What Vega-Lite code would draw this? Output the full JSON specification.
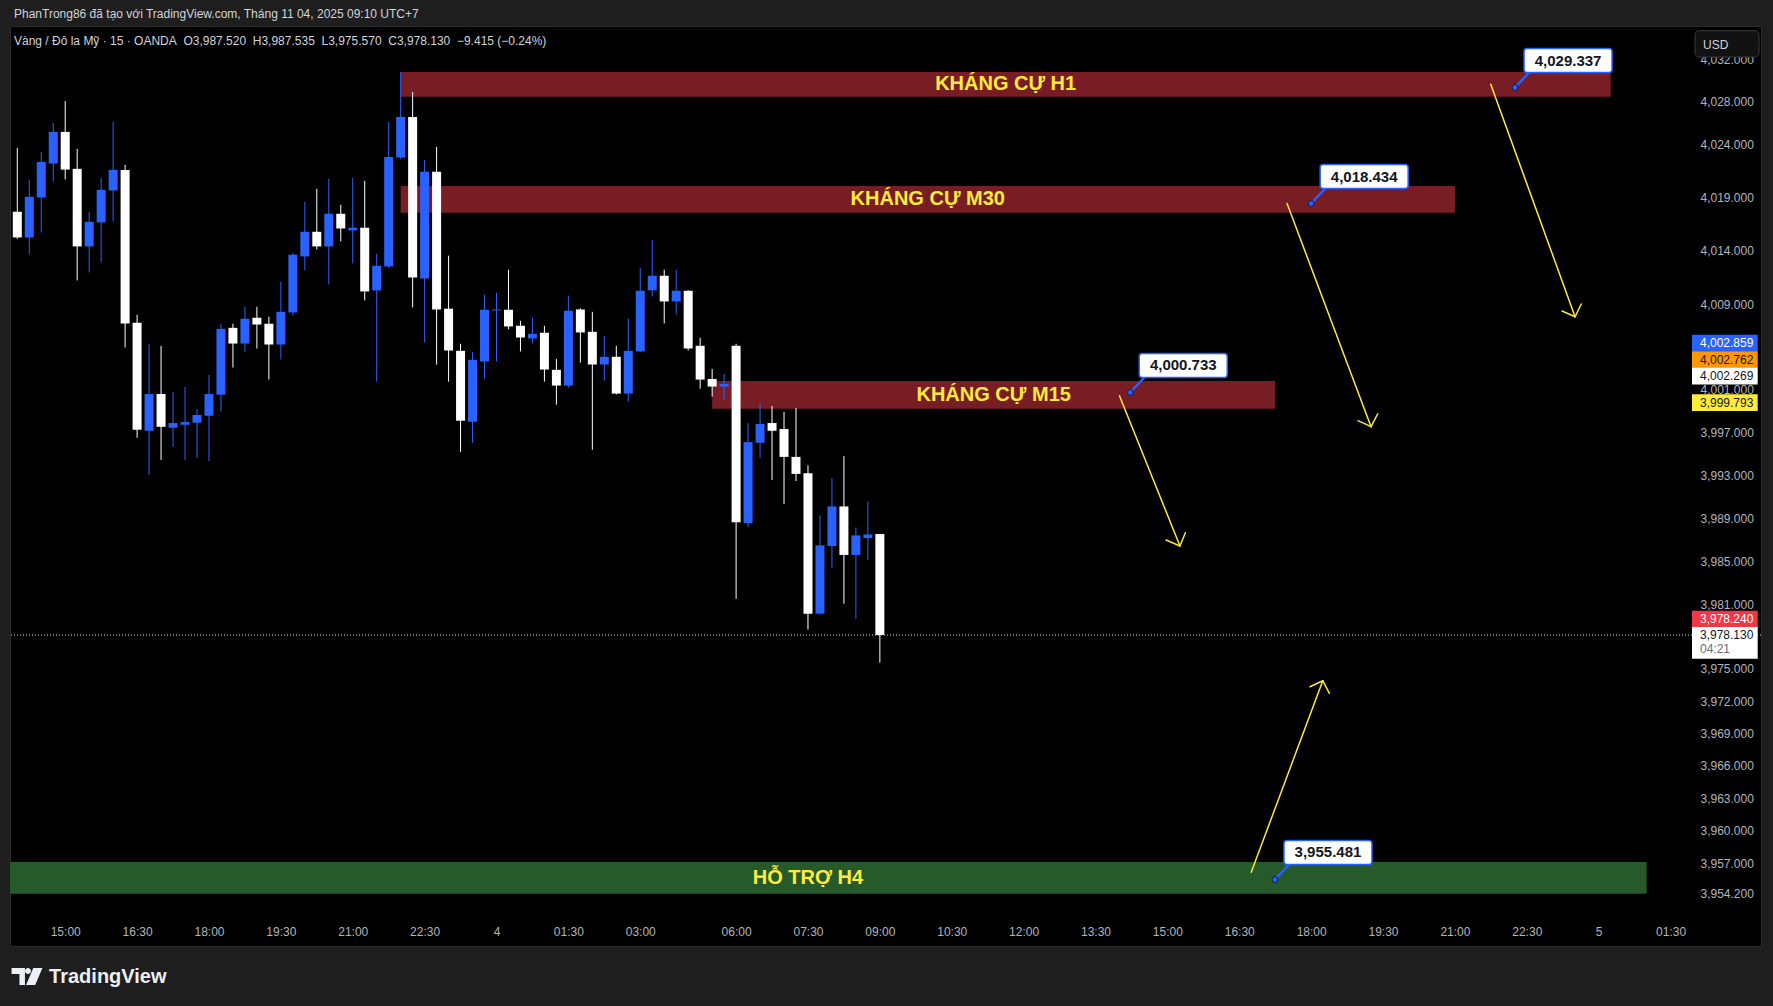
{
  "$schema": "https://vega.github.io/schema/vega-lite/v6.json",
  "width": 1751,
  "height": 920,
  "autosize": "none",
  "padding": {"left": 10, "top": 26, "right": 12, "bottom": 60},
  "background": "#1e1e1e",
  "view": {"fill": "#000000", "stroke": "#2b2b2b", "strokeWidth": 1},
  "config": {"font": "Liberation Sans", "text": {"font": "Liberation Sans"}, "scale": {"continuousPadding": 0}},
  "title": {
    "text": "PhanTrong86 đã tạo với TradingView.com, Tháng 11 04, 2025 09:10 UTC+7",
    "subtitle": "Vàng / Đô la Mỹ · 15 · OANDA\u00a0\u00a0O3,987.520\u00a0\u00a0H3,987.535\u00a0\u00a0L3,975.570\u00a0\u00a0C3,978.130\u00a0\u00a0−9.415 (−0.24%)",
    "anchor": "start",
    "frame": "group",
    "orient": "top",
    "offset": -22,
    "dx": 4,
    "font": "Liberation Sans",
    "fontSize": 12,
    "fontWeight": "normal",
    "color": "#d1d4dc",
    "subtitleFont": "Liberation Sans",
    "subtitleFontSize": 12,
    "subtitleColor": "#d1d4dc",
    "subtitlePadding": 15
  },
  "datasets": {
    "candles": [
      {"x":0,"o":4017.66,"h":4023.66,"l":4015.12,"c":4015.25},
      {"x":1,"o":4015.25,"h":4020.66,"l":4013.66,"c":4019.06},
      {"x":2,"o":4019.0,"h":4023.28,"l":4015.72,"c":4022.34},
      {"x":3,"o":4022.19,"h":4026.0,"l":4020.5,"c":4025.16},
      {"x":4,"o":4025.16,"h":4028.06,"l":4020.69,"c":4021.62},
      {"x":5,"o":4021.69,"h":4023.56,"l":4011.22,"c":4014.41},
      {"x":6,"o":4014.41,"h":4017.66,"l":4011.97,"c":4016.72},
      {"x":7,"o":4016.66,"h":4020.84,"l":4012.91,"c":4019.72},
      {"x":8,"o":4019.66,"h":4026.09,"l":4016.75,"c":4021.59},
      {"x":9,"o":4021.59,"h":4022.06,"l":4004.94,"c":4007.19},
      {"x":10,"o":4007.25,"h":4008.0,"l":3996.5,"c":3997.25},
      {"x":11,"o":3997.16,"h":4005.28,"l":3993.03,"c":4000.59},
      {"x":12,"o":4000.59,"h":4005.09,"l":3994.44,"c":3997.53},
      {"x":13,"o":3997.44,"h":4000.78,"l":3995.66,"c":3997.88},
      {"x":14,"o":3997.72,"h":4001.25,"l":3994.44,"c":3997.97},
      {"x":15,"o":3997.91,"h":3999.19,"l":3994.63,"c":3998.63},
      {"x":16,"o":3998.56,"h":4002.38,"l":3994.34,"c":4000.59},
      {"x":17,"o":4000.53,"h":4007.16,"l":3998.94,"c":4006.69},
      {"x":18,"o":4006.78,"h":4007.16,"l":4003.06,"c":4005.31},
      {"x":19,"o":4005.31,"h":4008.75,"l":4004.56,"c":4007.63},
      {"x":20,"o":4007.72,"h":4008.75,"l":4004.84,"c":4007.09},
      {"x":21,"o":4007.16,"h":4007.81,"l":4001.94,"c":4005.22},
      {"x":22,"o":4005.22,"h":4011.09,"l":4003.81,"c":4008.28},
      {"x":23,"o":4008.22,"h":4013.81,"l":4007.94,"c":4013.63},
      {"x":24,"o":4013.47,"h":4018.59,"l":4012.16,"c":4015.78},
      {"x":25,"o":4015.78,"h":4019.81,"l":4014.13,"c":4014.41},
      {"x":26,"o":4014.41,"h":4020.75,"l":4010.84,"c":4017.47},
      {"x":27,"o":4017.47,"h":4018.31,"l":4014.88,"c":4016.09},
      {"x":28,"o":4015.91,"h":4020.84,"l":4012.81,"c":4016.16},
      {"x":29,"o":4016.16,"h":4020.56,"l":4009.34,"c":4010.19},
      {"x":30,"o":4010.28,"h":4013.72,"l":4001.75,"c":4012.59},
      {"x":31,"o":4012.53,"h":4026.09,"l":4012.4,"c":4022.81},
      {"x":32,"o":4022.75,"h":4030.78,"l":4022.6,"c":4026.56},
      {"x":33,"o":4026.56,"h":4028.91,"l":4008.69,"c":4011.5},
      {"x":34,"o":4011.41,"h":4022.53,"l":4005.41,"c":4021.41},
      {"x":35,"o":4021.41,"h":4023.75,"l":4003.34,"c":4008.5},
      {"x":36,"o":4008.57,"h":4013.54,"l":4001.75,"c":4004.66},
      {"x":37,"o":4004.63,"h":4005.29,"l":3995.19,"c":3998.1},
      {"x":38,"o":3998.0,"h":4004.54,"l":3996.04,"c":4003.79},
      {"x":39,"o":4003.63,"h":4009.88,"l":4002.04,"c":4008.47},
      {"x":40,"o":4008.41,"h":4010.07,"l":4003.63,"c":4008.5},
      {"x":41,"o":4008.47,"h":4012.22,"l":4006.63,"c":4006.91},
      {"x":42,"o":4006.97,"h":4007.44,"l":4004.57,"c":4005.88},
      {"x":43,"o":4005.79,"h":4007.72,"l":4005.32,"c":4006.22},
      {"x":44,"o":4006.32,"h":4006.97,"l":4001.75,"c":4002.88},
      {"x":45,"o":4002.85,"h":4003.88,"l":3999.6,"c":4001.38},
      {"x":46,"o":4001.38,"h":4009.79,"l":4001.19,"c":4008.38},
      {"x":47,"o":4008.5,"h":4008.6,"l":4003.53,"c":4006.35},
      {"x":48,"o":4006.41,"h":4008.28,"l":3995.38,"c":4003.35},
      {"x":49,"o":4003.35,"h":4006.04,"l":4001.85,"c":4004.07},
      {"x":50,"o":4004.07,"h":4005.1,"l":4000.55,"c":4000.63},
      {"x":51,"o":4000.63,"h":4007.63,"l":3999.88,"c":4004.63},
      {"x":52,"o":4004.57,"h":4012.41,"l":4004.5,"c":4010.25},
      {"x":53,"o":4010.29,"h":4015.04,"l":4009.72,"c":4011.66},
      {"x":54,"o":4011.66,"h":4012.22,"l":4007.19,"c":4009.25},
      {"x":55,"o":4009.25,"h":4012.22,"l":4008.04,"c":4010.25},
      {"x":56,"o":4010.25,"h":4010.3,"l":4004.66,"c":4004.85},
      {"x":57,"o":4005.1,"h":4005.85,"l":4001.1,"c":4001.94},
      {"x":58,"o":4002.0,"h":4002.94,"l":4000.35,"c":4001.29},
      {"x":59,"o":4001.29,"h":4002.47,"l":4000.07,"c":4001.53},
      {"x":60,"o":4005.1,"h":4005.29,"l":3981.5,"c":3988.63},
      {"x":61,"o":3988.54,"h":3997.88,"l":3988.17,"c":3996.1},
      {"x":62,"o":3996.04,"h":3999.76,"l":3994.63,"c":3997.79},
      {"x":63,"o":3997.88,"h":3999.48,"l":3992.57,"c":3997.16},
      {"x":64,"o":3997.32,"h":3998.91,"l":3990.32,"c":3994.72},
      {"x":65,"o":3994.72,"h":3999.29,"l":3992.47,"c":3993.13},
      {"x":66,"o":3993.19,"h":3993.94,"l":3978.63,"c":3980.12},
      {"x":67,"o":3980.12,"h":3989.26,"l":3980.02,"c":3986.47},
      {"x":68,"o":3986.41,"h":3992.73,"l":3984.37,"c":3990.1},
      {"x":69,"o":3990.1,"h":3994.79,"l":3981.04,"c":3985.58},
      {"x":70,"o":3985.58,"h":3988.14,"l":3979.65,"c":3987.4},
      {"x":71,"o":3987.15,"h":3990.57,"l":3985.11,"c":3987.49},
      {"x":72,"o":3987.52,"h":3987.535,"l":3975.57,"c":3978.13}
    ],
    "zones": [
      {"z":"H1","kind":"res","x":32,"x2":133,"p":4030.80,"p2":4028.47},
      {"z":"M30","kind":"res","x":32,"x2":120,"p":4020.08,"p2":4017.57},
      {"z":"M15","kind":"res","x":58,"x2":105,"p":4001.81,"p2":3999.22},
      {"z":"H4","kind":"sup","x":-4,"x2":136,"p":3957.10,"p2":3954.17}
    ],
    "zlabels": [
      {"t":"KHÁNG CỰ H1","x":82.5,"p":4029.64},
      {"t":"KHÁNG CỰ M30","x":76,"p":4018.83},
      {"t":"KHÁNG CỰ M15","x":81.5,"p":4000.52},
      {"t":"HỖ TRỢ H4","x":66,"p":3955.64}
    ],
    "arrows": [
      {"a":1,"x":122.99,"p":4029.64,"x2":130.03,"p2":4007.82},
      {"a":1,"x":128.94,"p":4008.36,"x2":130.03,"p2":4007.82},
      {"a":1,"x":130.55,"p":4009.01,"x2":130.03,"p2":4007.82},
      {"a":2,"x":105.99,"p":4018.43,"x2":113.0,"p2":3997.54},
      {"a":2,"x":111.91,"p":3998.10,"x2":113.0,"p2":3997.54},
      {"a":2,"x":113.56,"p":3998.75,"x2":113.0,"p2":3997.54},
      {"a":3,"x":92.0,"p":4000.43,"x2":97.05,"p2":3986.41},
      {"a":3,"x":95.89,"p":3986.97,"x2":97.05,"p2":3986.41},
      {"a":3,"x":97.5,"p":3987.65,"x2":97.05,"p2":3986.41},
      {"a":4,"x":103.0,"p":3956.15,"x2":108.97,"p2":3973.89},
      {"a":4,"x":107.9,"p":3973.33,"x2":108.97,"p2":3973.89},
      {"a":4,"x":109.52,"p":3972.72,"x2":108.97,"p2":3973.89}
    ],
    "notes": [
      {"v":"4,029.337","x":125.02,"p":4029.337},
      {"v":"4,018.434","x":108.0,"p":4018.434},
      {"v":"4,000.733","x":92.9,"p":4000.733},
      {"v":"3,955.481","x":104.98,"p":3955.481}
    ],
    "tags": [
      {"k":"b1","v":"4,002.859","p":4005.36},
      {"k":"o1","v":"4,002.762","p":4003.80},
      {"k":"w1","v":"4,002.269","p":4002.269},
      {"k":"y1","v":"3,999.793","p":3999.793},
      {"k":"r1","v":"3,978.240","p":3979.62}
    ],
    "last": [
      {"v":"3,978.130","cd":"04:21","p":3978.13}
    ]
  },
  "layer": [
    {
      "data": {"name": "zones"},
      "mark": {"type": "rect", "clip": true},
      "encoding": {
        "x": {"field": "x", "type": "quantitative", "scale": {"domain": [-0.609, 145.55], "nice": false, "zero": false, "padding": 0}},
        "x2": {"field": "x2"},
        "y": {"field": "p", "type": "quantitative", "scale": {"type": "log", "domain": [3949.34, 4035.13], "nice": false, "padding": 0}},
        "y2": {"field": "p2"},
        "color": {"condition": {"test": "datum.kind == 'sup'", "value": "#275a2a"}, "value": "#791d25"}
      }
    },
    {
      "data": {"values": [{"p": 3978.13}]},
      "mark": {"type": "rule", "strokeDash": [1, 2], "strokeWidth": 1, "color": "#d1d4dc"},
      "encoding": {
        "y": {"field": "p", "type": "quantitative", "scale": {"type": "log", "domain": [3949.34, 4035.13], "nice": false, "padding": 0}}
      }
    },
    {
      "data": {"name": "candles"},
      "mark": {"type": "rule", "strokeWidth": 1},
      "encoding": {
        "x": {
          "field": "x",
          "type": "quantitative",
          "scale": {"domain": [-0.609, 145.55], "nice": false, "zero": false, "padding": 0},
          "axis": {
            "orient": "bottom",
            "offset": -30,
            "values": [4,10,16,22,28,34,40,46,52,60,66,72,78,84,90,96,102,108,114,120,126,132,138],
            "labelExpr": "datum.value == 40 ? '4' : datum.value == 132 ? '5' : timeFormat(datetime(2025, 10, 3, 0, datum.value < 60 ? 840 + 15 * datum.value : 1800 + 15 * (datum.value - 60)), '%H:%M')",
            "domain": false,
            "ticks": false,
            "grid": false,
            "labelPadding": 10,
            "labelBaseline": "top",
            "labelFontSize": 12,
            "labelFont": "Liberation Sans",
            "labelColor": "#b2b5be",
            "labelOverlap": false,
            "labelFlush": false,
            "title": "TradingView",
            "titleX": 38.6,
            "titleY": 66.7,
            "titleAlign": "left",
            "titleBaseline": "alphabetic",
            "titleFont": "Liberation Sans",
            "titleFontSize": 20,
            "titleFontWeight": "bold",
            "titleColor": "#eceff5"
          }
        },
        "y": {
          "field": "l",
          "type": "quantitative",
          "scale": {"type": "log", "domain": [3949.34, 4035.13], "nice": false, "padding": 0},
          "axis": {
            "orient": "right",
            "offset": -71,
            "values": [4032, 4028, 4024, 4019, 4014, 4009, 4001, 3997, 3993, 3989, 3985, 3981, 3975, 3972, 3969, 3966, 3963, 3960, 3957, 3954.2],
            "format": ",.3f",
            "domain": false,
            "ticks": false,
            "grid": false,
            "labelPadding": 10,
            "labelBaseline": "middle",
            "labelFontSize": 12,
            "labelFont": "Liberation Sans",
            "labelColor": "#b2b5be",
            "labelOverlap": false,
            "labelFlush": false,
            "title": null
          }
        },
        "y2": {"field": "h"},
        "color": {"condition": {"test": "datum.c >= datum.o", "value": "#2962FF"}, "value": "#FFFFFF"}
      }
    },
    {
      "data": {"name": "candles"},
      "mark": {"type": "bar", "size": 9},
      "encoding": {
        "x": {"field": "x", "type": "quantitative", "scale": {"domain": [-0.609, 145.55], "nice": false, "zero": false, "padding": 0}},
        "y": {"field": "o", "type": "quantitative", "scale": {"type": "log", "domain": [3949.34, 4035.13], "nice": false, "padding": 0}},
        "y2": {"field": "c"},
        "color": {"condition": {"test": "datum.c >= datum.o", "value": "#2962FF"}, "value": "#FFFFFF"}
      }
    },
    {
      "data": {"name": "zlabels"},
      "mark": {"type": "text", "fontSize": 20, "fontWeight": "bold", "color": "#FFEB3B", "align": "center", "baseline": "middle", "font": "Liberation Sans"},
      "encoding": {
        "x": {"field": "x", "type": "quantitative", "scale": {"domain": [-0.609, 145.55], "nice": false, "zero": false, "padding": 0}},
        "y": {"field": "p", "type": "quantitative", "scale": {"type": "log", "domain": [3949.34, 4035.13], "nice": false, "padding": 0}},
        "text": {"field": "t"}
      }
    },
    {
      "data": {"name": "arrows"},
      "mark": {"type": "rule", "strokeWidth": 1.5, "color": "#FFE83A", "strokeCap": "round"},
      "encoding": {
        "x": {"field": "x", "type": "quantitative", "scale": {"domain": [-0.609, 145.55], "nice": false, "zero": false, "padding": 0}},
        "x2": {"field": "x2"},
        "y": {"field": "p", "type": "quantitative", "scale": {"type": "log", "domain": [3949.34, 4035.13], "nice": false, "padding": 0}},
        "y2": {"field": "p2"}
      }
    },
    {
      "data": {"name": "notes"},
      "mark": {"type": "rule", "strokeWidth": 2.5, "color": "#2962FF", "x2Offset": 15, "y2Offset": -16},
      "encoding": {
        "x": {"field": "x", "type": "quantitative", "scale": {"domain": [-0.609, 145.55], "nice": false, "zero": false, "padding": 0}},
        "x2": {"field": "x"},
        "y": {"field": "p", "type": "quantitative", "scale": {"type": "log", "domain": [3949.34, 4035.13], "nice": false, "padding": 0}},
        "y2": {"field": "p"}
      }
    },
    {
      "data": {"name": "notes"},
      "mark": {"type": "rect", "fill": "#FFFFFF", "stroke": "#2962FF", "strokeWidth": 1.5, "cornerRadius": 3, "xOffset": 9, "x2Offset": 97, "yOffset": -39, "y2Offset": -15},
      "encoding": {
        "x": {"field": "x", "type": "quantitative", "scale": {"domain": [-0.609, 145.55], "nice": false, "zero": false, "padding": 0}},
        "x2": {"field": "x"},
        "y": {"field": "p", "type": "quantitative", "scale": {"type": "log", "domain": [3949.34, 4035.13], "nice": false, "padding": 0}},
        "y2": {"field": "p"}
      }
    },
    {
      "data": {"name": "notes"},
      "mark": {"type": "point", "filled": true, "size": 34, "fill": "#2962FF", "stroke": "#0b1a4d", "strokeWidth": 1, "opacity": 1},
      "encoding": {
        "x": {"field": "x", "type": "quantitative", "scale": {"domain": [-0.609, 145.55], "nice": false, "zero": false, "padding": 0}},
        "y": {"field": "p", "type": "quantitative", "scale": {"type": "log", "domain": [3949.34, 4035.13], "nice": false, "padding": 0}}
      }
    },
    {
      "data": {"name": "notes"},
      "mark": {"type": "text", "fontSize": 15, "fontWeight": "bold", "color": "#131722", "align": "center", "baseline": "middle", "xOffset": 53, "yOffset": -27, "font": "Liberation Sans"},
      "encoding": {
        "x": {"field": "x", "type": "quantitative", "scale": {"domain": [-0.609, 145.55], "nice": false, "zero": false, "padding": 0}},
        "y": {"field": "p", "type": "quantitative", "scale": {"type": "log", "domain": [3949.34, 4035.13], "nice": false, "padding": 0}},
        "text": {"field": "v"}
      }
    },
    {
      "data": {"name": "tags"},
      "mark": {"type": "rect", "xOffset": -69, "x2Offset": -3.3, "yOffset": -8.35, "y2Offset": 8.35},
      "encoding": {
        "x": {"value": "width"},
        "x2": {"value": "width"},
        "y": {"field": "p", "type": "quantitative", "scale": {"type": "log", "domain": [3949.34, 4035.13], "nice": false, "padding": 0}},
        "y2": {"field": "p"},
        "color": {
          "condition": [
            {"test": "datum.k == 'b1'", "value": "#2962FF"},
            {"test": "datum.k == 'o1'", "value": "#FF9800"},
            {"test": "datum.k == 'y1'", "value": "#FFEB3B"},
            {"test": "datum.k == 'r1'", "value": "#F23645"}
          ],
          "value": "#FFFFFF"
        }
      }
    },
    {
      "data": {"name": "tags"},
      "mark": {"type": "text", "fontSize": 12, "align": "left", "baseline": "middle", "font": "Liberation Sans", "xOffset": -61},
      "encoding": {
        "x": {"value": "width"},
        "y": {"field": "p", "type": "quantitative", "scale": {"type": "log", "domain": [3949.34, 4035.13], "nice": false, "padding": 0}},
        "text": {"field": "v"},
        "color": {
          "condition": [
            {"test": "datum.k == 'b1'", "value": "#FFFFFF"},
            {"test": "datum.k == 'r1'", "value": "#FFFFFF"}
          ],
          "value": "#131722"
        }
      }
    },
    {
      "data": {"name": "last"},
      "mark": {"type": "rect", "fill": "#FFFFFF", "xOffset": -69, "x2Offset": -3.3, "yOffset": -8, "y2Offset": 23.7},
      "encoding": {
        "x": {"value": "width"},
        "x2": {"value": "width"},
        "y": {"field": "p", "type": "quantitative", "scale": {"type": "log", "domain": [3949.34, 4035.13], "nice": false, "padding": 0}},
        "y2": {"field": "p"}
      }
    },
    {
      "data": {"name": "last"},
      "mark": {"type": "text", "fontSize": 12, "align": "left", "baseline": "middle", "color": "#131722", "font": "Liberation Sans", "xOffset": -61},
      "encoding": {
        "x": {"value": "width"},
        "y": {"field": "p", "type": "quantitative", "scale": {"type": "log", "domain": [3949.34, 4035.13], "nice": false, "padding": 0}},
        "text": {"field": "v"}
      }
    },
    {
      "data": {"name": "last"},
      "mark": {"type": "text", "fontSize": 12, "align": "left", "baseline": "middle", "color": "#6a6d78", "font": "Liberation Sans", "xOffset": -61, "yOffset": 14},
      "encoding": {
        "x": {"value": "width"},
        "y": {"field": "p", "type": "quantitative", "scale": {"type": "log", "domain": [3949.34, 4035.13], "nice": false, "padding": 0}},
        "text": {"field": "cd"}
      }
    },
    {
      "data": {"values": [{"u": "USD"}]},
      "mark": {"type": "rect", "fill": "#121212", "stroke": "#3a3a3a", "strokeWidth": 1, "cornerRadius": 4, "xOffset": -66, "x2Offset": -2, "yOffset": 4.7, "y2Offset": 31},
      "encoding": {
        "x": {"value": "width"},
        "x2": {"value": "width"},
        "y": {"value": 0},
        "y2": {"value": 0}
      }
    },
    {
      "data": {"values": [{"u": "USD"}]},
      "mark": {"type": "text", "fontSize": 12, "align": "left", "baseline": "middle", "color": "#d1d4dc", "font": "Liberation Sans", "xOffset": -58, "yOffset": 18.5},
      "encoding": {
        "x": {"value": "width"},
        "y": {"value": 0},
        "text": {"field": "u"}
      }
    },
    {
      "data": {"values": [{"logo": "TradingView"}]},
      "mark": {
        "type": "point",
        "filled": true,
        "size": 992,
        "fill": "#eceff5",
        "strokeWidth": 0,
        "opacity": 1,
        "xOffset": 17,
        "yOffset": 30.5,
        "shape": "M -0.98 -0.54 L -0.13 -0.54 L -0.13 0.54 L -0.48 0.54 L -0.48 -0.16 L -0.98 -0.16 Z M -0.127 -0.35 A 0.19 0.19 0 1 0 0.253 -0.35 A 0.19 0.19 0 1 0 -0.127 -0.35 Z M 0.40 -0.54 L 0.98 -0.54 L 0.52 0.54 L -0.06 0.54 Z"
      },
      "encoding": {
        "x": {"value": 0},
        "y": {"value": "height"}
      }
    }
  ]
}
